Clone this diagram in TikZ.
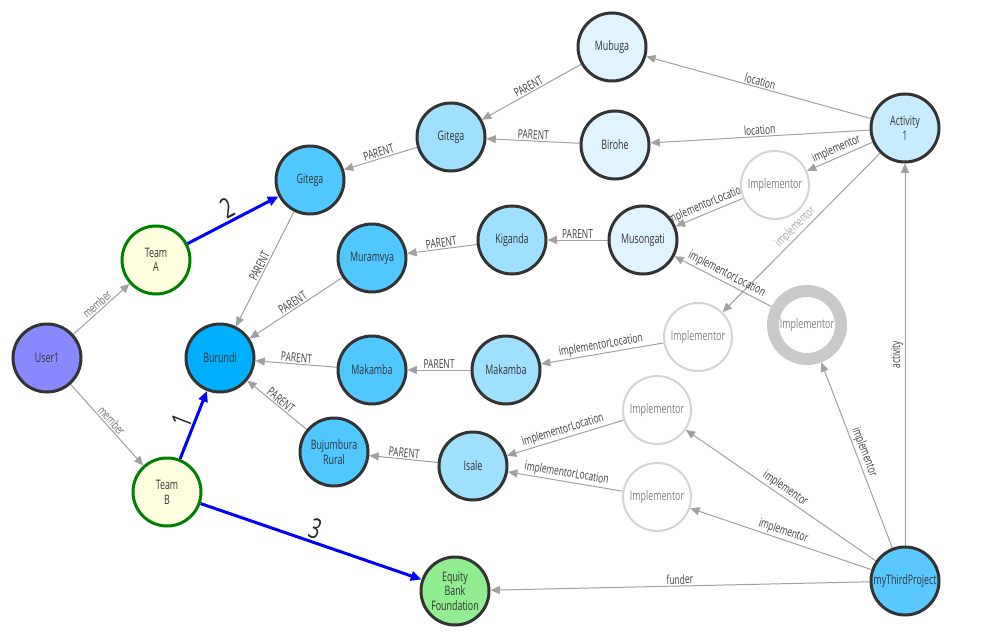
\documentclass[tikz,border=0pt]{standalone}
\usepackage{fontspec}
\setmainfont{Open Sans}[FakeStretch=0.68]
\usetikzlibrary{arrows.meta,backgrounds}
\definecolor{nodeline}{RGB}{51,51,51}
\definecolor{userc}{RGB}{136,136,255}
\definecolor{teamc}{RGB}{255,255,224}
\definecolor{teamline}{RGB}{0,128,0}
\definecolor{lvla}{RGB}{0,176,255}
\definecolor{lvlb}{RGB}{80,200,255}
\definecolor{lvlc}{RGB}{160,224,255}
\definecolor{lvld}{RGB}{224,244,255}
\definecolor{actc}{RGB}{200,236,255}
\definecolor{projc}{RGB}{90,200,255}
\definecolor{fundc}{RGB}{144,238,144}
\definecolor{edgec}{RGB}{160,160,160}
\definecolor{implc}{RGB}{212,212,212}
\begin{document}
\begin{tikzpicture}[x=0.75pt, y=-0.75pt,
  place/.style={circle, draw=nodeline, line width=2.25pt, minimum size=51pt, inner sep=0pt, align=center, text=black!80, font=\fontsize{9.8}{11}\selectfont},
  impl/.style={circle, draw=implc, line width=1.5pt, fill=white, minimum size=51pt, inner sep=0pt, text=black!50, font=\fontsize{9.8}{11}\selectfont},
  rel/.style={draw=edgec, line width=0.75pt, -{Triangle[length=7pt,width=6pt]}},
  lbl/.style={midway, sloped, above, inner sep=1pt, text=black!75, font=\fontsize{9.3}{10}\selectfont},
  order/.style={draw=blue, line width=2.25pt, -{Triangle[length=8pt,width=7pt]}},
  num/.style={midway, sloped, above, inner sep=1pt, text=black!85, font=\fontsize{21}{21}\selectfont}]
\useasboundingbox (0,0) rectangle (1000,635);
% people
\node[place, fill=userc] (user) at (47,358) {User1};
\node[place, fill=teamc, draw=teamline] (teamA) at (156,260) {Team\\A};
\node[place, fill=teamc, draw=teamline] (teamB) at (167,492) {Team\\B};
% places
\node[place, fill=lvla] (burundi) at (220,358) {Burundi};
\node[place, fill=lvlb] (gitegaA) at (310,180) {Gitega};
\node[place, fill=lvlc] (gitegaB) at (451,137) {Gitega};
\node[place, fill=lvld] (mubuga) at (612,47) {Mubuga};
\node[place, fill=lvld] (birohe) at (615,145) {Birohe};
\node[place, fill=lvlb] (muramvya) at (372,258) {Muramvya};
\node[place, fill=lvlc] (kiganda) at (512,240) {Kiganda};
\node[place, fill=lvld] (musongati) at (643,240) {Musongati};
\node[place, fill=lvlb] (makambaA) at (372,370) {Makamba};
\node[place, fill=lvlc] (makambaB) at (506,370) {Makamba};
\node[place, fill=lvlb] (bujumbura) at (334,452) {Bujumbura\\Rural};
\node[place, fill=lvlc] (isale) at (473,466) {Isale};
% project side
\node[place, fill=actc] (act) at (905,128) {Activity\\1};
\node[place, fill=projc] (project) at (905,581) {myThirdProject};
\node[place, fill=fundc] (equity) at (455,591) {Equity\\Bank\\Foundation};
\node[impl] (implA) at (775,185) {Implementor};
\node[impl] (implB) at (698,337) {Implementor};
\node[impl, line width=9pt, draw=implc!95!black] (implC) at (807,325) {Implementor};
\node[impl] (implD) at (657,410) {Implementor};
\node[impl] (implE) at (657,497) {Implementor};
\begin{pgfonlayer}{background}
\fill[white] (0,0) rectangle (1000,635);
\draw[rel] (user) -- (teamA) node[lbl, text=black!55] {member};
\draw[rel] (user) -- (teamB) node[lbl, text=black!55] {member};
\draw[order] (teamA) -- (gitegaA) node[num] {2};
\draw[order] (teamB) -- (burundi) node[num] {1};
\draw[order] (teamB) -- (equity) node[num] {3};
\draw[rel] (gitegaA) -- (burundi) node[lbl] {PARENT};
\draw[rel] (muramvya) -- (burundi) node[lbl] {PARENT};
\draw[rel] (makambaA) -- (burundi) node[lbl] {PARENT};
\draw[rel] (bujumbura) -- (burundi) node[lbl] {PARENT};
\draw[rel] (gitegaB) -- (gitegaA) node[lbl] {PARENT};
\draw[rel] (mubuga) -- (gitegaB) node[lbl] {PARENT};
\draw[rel] (birohe) -- (gitegaB) node[lbl] {PARENT};
\draw[rel] (kiganda) -- (muramvya) node[lbl] {PARENT};
\draw[rel] (musongati) -- (kiganda) node[lbl] {PARENT};
\draw[rel] (makambaB) -- (makambaA) node[lbl] {PARENT};
\draw[rel] (isale) -- (bujumbura) node[lbl] {PARENT};
\draw[rel] (act) -- (mubuga) node[lbl] {location};
\draw[rel] (act) -- (birohe) node[lbl] {location};
\draw[rel] (act) -- (implA) node[lbl] {implementor};
\draw[rel] (act) -- (implB) node[lbl, text=black!35] {implementor};
\draw[rel] (implA) -- (musongati) node[lbl] {implementorLocation};
\draw[rel] (implC) -- (musongati) node[lbl] {implementorLocation};
\draw[rel] (implB) -- (makambaB) node[lbl] {implementorLocation};
\draw[rel] (implD) -- (isale) node[lbl] {implementorLocation};
\draw[rel] (implE) -- (isale) node[lbl] {implementorLocation};
\draw[rel] (project) -- (implD) node[lbl] {implementor};
\draw[rel] (project) -- (implE) node[lbl] {implementor};
\draw[rel] (project) -- (implC) node[lbl] {implementor};
\draw[rel] (project) -- (act) node[lbl] {activity};
\draw[rel] (project) -- (equity) node[lbl] {funder};
\end{pgfonlayer}
\end{tikzpicture}
\end{document}
